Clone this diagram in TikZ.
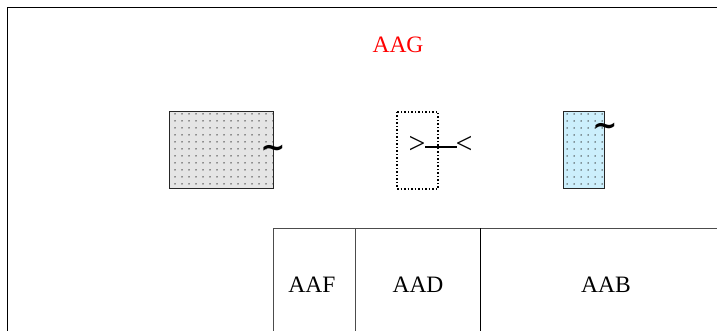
\documentclass[tikz,border=0pt]{standalone}
\usepackage{fontspec}
\setmainfont{Liberation Serif}
\newfontfamily\tildefont{DejaVu Sans}
\usetikzlibrary{patterns.meta}
\begin{document}
\begin{tikzpicture}[x=1pt,y=-1pt,
  lbl/.style={inner sep=0pt,font=\fontsize{23.5}{28}\selectfont},
  sym/.style={inner sep=0pt,font=\fontsize{30}{34}\selectfont},
  tl/.style={inner sep=0pt,font=\tildefont\bfseries\fontsize{30}{34}\selectfont},
  dotbox/.style={draw=black!85,line width=1pt,postaction={pattern={Dots[distance=7pt,radius=0.75pt]},pattern color=black!80}},
  cell/.style={draw=black!70,line width=1pt}]
\useasboundingbox (0,0) rectangle (717,331);
\clip (0,0) rectangle (717,331);
\draw[line width=1pt] (7,8) rectangle (740,360);
\node[lbl,text=red] (title) at (398,45) {AAG};
% gray box
\draw[dotbox,fill=black!10] (169,112) rectangle (273,189);
\node[tl] (t1) at (273,151) {∼};
% dotted box
\draw[line width=1.5pt,dotted] (397,112) rectangle (438,189);
\node[sym] (gt) at (417,145) {>};
\node[sym] (lt) at (464,145) {<};
\coordinate (la) at (425,147);
\coordinate (lb) at (457,147);
\draw[line width=1.8pt] (la) -- (lb);
% cyan box
\draw[dotbox,fill=cyan!20] (563,112) rectangle (604,189);
\node[tl] (t2) at (605,129) {∼};
% table
\draw[cell] (273,360) -- (273,228) -- (740,228);
\draw[cell] (355,228) -- (355,360);
\draw[line width=1pt] (480,228) -- (480,360);
\node[lbl] (aaf) at (312,285) {AAF};
\node[lbl] (aad) at (418,285) {AAD};
\node[lbl] (aab) at (606,285) {AAB};
\end{tikzpicture}
\end{document}
